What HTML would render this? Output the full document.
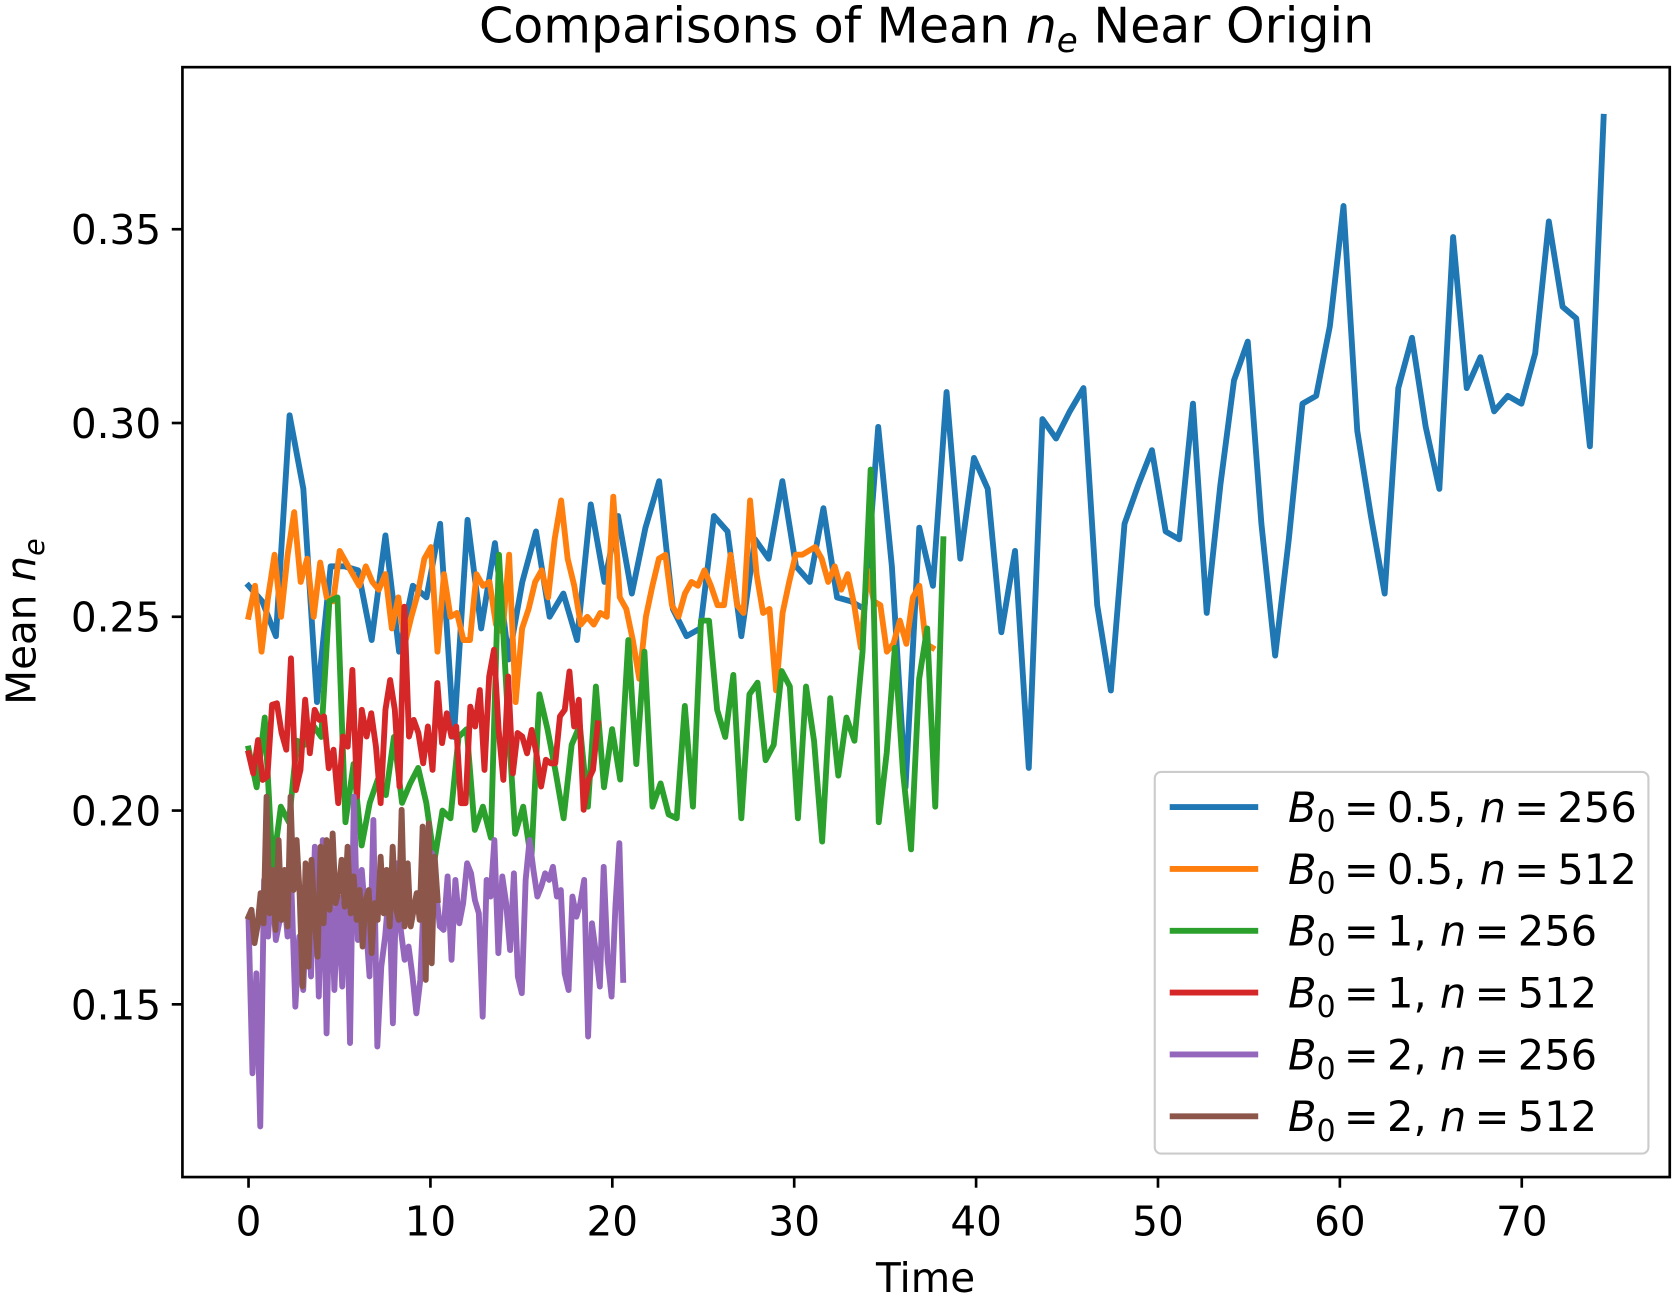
<!DOCTYPE html>
<html><head><meta charset="utf-8"><style>
html,body{margin:0;padding:0;background:#fff;}
svg{display:block;font-family:"DejaVu Sans","Liberation Sans",sans-serif;}
</style></head><body>
<svg id="chart" width="1672" height="1305" viewBox="0 0 1568 1224" xmlns="http://www.w3.org/2000/svg">
<rect width="1568" height="1224" fill="#fff"/>
<text x="869" y="40" font-size="46" text-anchor="middle">Comparisons of Mean <tspan font-style="italic">n</tspan><tspan font-style="italic" font-size="32" dy="9">e</tspan><tspan dy="-9"> Near Origin</tspan></text>
<text x="868" y="1212" font-size="38" text-anchor="middle">Time</text>
<text transform="translate(33,583) rotate(-90)" font-size="38" text-anchor="middle">Mean <tspan font-style="italic">n</tspan><tspan font-style="italic" font-size="27" dy="8">e</tspan></text>
<g id="plot"></g>
<g id="axes"></g>
<g id="legend"></g>
</svg>
<script>
const xTicks = [0,10,20,30,40,50,60,70];
const yTicks = [0.15,0.20,0.25,0.30,0.35];
const yTickLabels = ["0.15","0.20","0.25","0.30","0.35"];
const seriesLabels = ["B0=0.5,n=256","B0=0.5,n=512","B0=1,n=256","B0=1,n=512","B0=2,n=256","B0=2,n=512"];
const seriesColors = ["#1f77b4","#ff7f0e","#2ca02c","#d62728","#9467bd","#8c564b"];
const tStart = [0,0,0,0,0,0];
const tEnd = [74.5,37.6,38.2,19.2,20.6,10.4];
const blue = [0.258,0.254,0.245,0.302,0.283,0.228,0.263,0.263,0.262,0.244,0.271,0.241,0.258,0.255,0.274,0.219,0.275,0.247,0.269,0.239,0.259,0.272,0.250,0.256,0.244,0.279,0.259,0.276,0.256,0.273,0.285,0.252,0.245,0.247,0.276,0.272,0.245,0.270,0.265,0.285,0.263,0.259,0.278,0.255,0.254,0.252,0.299,0.263,0.206,0.273,0.258,0.308,0.265,0.291,0.283,0.246,0.267,0.211,0.301,0.296,0.303,0.309,0.253,0.231,0.274,0.284,0.293,0.272,0.270,0.305,0.251,0.284,0.311,0.321,0.274,0.240,0.270,0.305,0.307,0.325,0.356,0.298,0.276,0.256,0.309,0.322,0.299,0.283,0.348,0.309,0.317,0.303,0.307,0.305,0.318,0.352,0.330,0.327,0.294,0.379];
const orange = [0.250,0.258,0.241,0.255,0.266,0.250,0.266,0.277,0.259,0.265,0.250,0.264,0.255,0.254,0.267,0.264,0.261,0.258,0.263,0.259,0.257,0.261,0.247,0.255,0.243,0.250,0.256,0.265,0.268,0.241,0.261,0.250,0.251,0.244,0.244,0.261,0.258,0.259,0.248,0.246,0.266,0.228,0.247,0.252,0.259,0.262,0.255,0.270,0.280,0.265,0.258,0.248,0.250,0.248,0.251,0.250,0.281,0.255,0.252,0.244,0.234,0.250,0.258,0.265,0.266,0.253,0.250,0.256,0.259,0.258,0.262,0.258,0.253,0.253,0.266,0.253,0.251,0.280,0.261,0.251,0.252,0.231,0.251,0.259,0.266,0.266,0.267,0.268,0.265,0.259,0.263,0.257,0.261,0.253,0.242,0.262,0.254,0.253,0.241,0.243,0.249,0.243,0.255,0.258,0.243,0.242];
const green = [0.216,0.206,0.224,0.185,0.201,0.197,0.218,0.217,0.222,0.219,0.254,0.255,0.197,0.212,0.191,0.202,0.208,0.204,0.219,0.202,0.207,0.211,0.202,0.187,0.200,0.198,0.219,0.221,0.195,0.201,0.193,0.266,0.228,0.194,0.201,0.187,0.230,0.221,0.210,0.198,0.217,0.222,0.201,0.232,0.206,0.221,0.208,0.244,0.212,0.241,0.201,0.207,0.199,0.198,0.227,0.201,0.249,0.249,0.226,0.219,0.235,0.198,0.230,0.233,0.213,0.217,0.236,0.232,0.198,0.232,0.218,0.192,0.229,0.209,0.224,0.218,0.241,0.288,0.197,0.215,0.242,0.210,0.190,0.234,0.247,0.201,0.270];
const red = [0.2148,0.2096,0.2182,0.2079,0.2088,0.2273,0.2277,0.22,0.2157,0.2393,0.2053,0.2105,0.2286,0.2148,0.226,0.2234,0.2243,0.2109,0.2157,0.2019,0.2191,0.2165,0.2363,0.2036,0.226,0.2191,0.2251,0.2165,0.2019,0.226,0.2337,0.226,0.2062,0.2526,0.2191,0.2234,0.22,0.2122,0.2217,0.2105,0.2329,0.2174,0.2251,0.2191,0.2217,0.2019,0.2019,0.2268,0.2217,0.2311,0.2105,0.2346,0.2415,0.2208,0.2079,0.2346,0.2096,0.22,0.2191,0.2148,0.2208,0.2148,0.2062,0.2131,0.2122,0.2122,0.2243,0.226,0.2359,0.2217,0.2286,0.2002,0.2079,0.2105,0.2225];
const purple = [0.1718,0.1322,0.158,0.1185,0.1821,0.1675,0.1821,0.1666,0.1718,0.1795,0.1675,0.1795,0.1494,0.1675,0.1537,0.1778,0.1572,0.1907,0.152,0.1924,0.1425,0.1873,0.1537,0.1778,0.1546,0.1864,0.14,0.2036,0.1666,0.1847,0.1718,0.1572,0.1976,0.1391,0.1597,0.1675,0.1795,0.1451,0.1864,0.1692,0.1615,0.1649,0.1572,0.1477,0.1563,0.1795,0.1675,0.189,0.1795,0.1701,0.1692,0.183,0.1615,0.1821,0.1709,0.1761,0.1864,0.1838,0.1769,0.1735,0.1468,0.1821,0.1778,0.1924,0.1632,0.183,0.1761,0.164,0.1838,0.1572,0.1529,0.1821,0.1924,0.1847,0.1778,0.1804,0.1838,0.1821,0.1855,0.1778,0.1795,0.158,0.1537,0.1778,0.1726,0.1761,0.1821,0.1417,0.1709,0.1632,0.1546,0.1855,0.1615,0.152,0.1752,0.1916,0.1563];
const brown = [0.1726,0.1744,0.1658,0.1701,0.1787,0.1709,0.2036,0.1735,0.1847,0.1692,0.1924,0.1718,0.1847,0.1701,0.2036,0.1795,0.1924,0.1787,0.1546,0.1864,0.1597,0.1873,0.1718,0.1623,0.1907,0.1709,0.1924,0.1744,0.1941,0.1761,0.1795,0.1873,0.1752,0.1907,0.1735,0.183,0.1718,0.1795,0.1649,0.1769,0.1795,0.1632,0.1761,0.1718,0.1881,0.1735,0.1847,0.1701,0.1907,0.1752,0.1718,0.2002,0.1701,0.1864,0.1701,0.1744,0.1787,0.1718,0.1959,0.1563,0.1967,0.1606,0.1881,0.1769];

const NS = "http://www.w3.org/2000/svg";
const L = 171, R = 1566, T = 63, B = 1104;
function xs(t){ return 233 + (t - 0) * 17.06; }
function ys(v){ return 942 - (v - 0.15) * 3635; }
function mk(tag, attrs, parent){ const e = document.createElementNS(NS, tag); for (const k in attrs) e.setAttribute(k, attrs[k]); parent.appendChild(e); return e; }

const plot = document.getElementById('plot');
const axes = document.getElementById('axes');
const legend = document.getElementById('legend');
const allSeries = [blue, orange, green, red, purple, brown];
const seriesNames = ["series-b05-n256","series-b05-n512","series-b1-n256","series-b1-n512","series-b2-n256","series-b2-n512"];
allSeries.forEach((vals, s) => {
  const n = vals.length;
  const pts = vals.map((v, i) => {
    const t = tStart[s] + (tEnd[s] - tStart[s]) * i / (n - 1);
    return xs(t).toFixed(1) + ',' + ys(v).toFixed(1);
  }).join(' ');
  const pl = mk('polyline', {points: pts, fill: 'none', stroke: seriesColors[s], 'stroke-width': 5.5, 'stroke-linejoin': 'round', 'stroke-linecap': 'square'}, plot);
  
  
});

const frame = mk('rect', {x: L, y: T, width: R - L, height: B - T, fill: 'none', stroke: '#000', 'stroke-width': 2.5}, axes);


xTicks.forEach((t) => {
  const x = xs(t);
  const tk = mk('line', {x1: x, y1: B, x2: x, y2: B + 10, stroke: '#000', 'stroke-width': 2.5}, axes);
  
  
  const tx = mk('text', {x: x, y: B + 55, 'font-size': 38, 'text-anchor': 'middle'}, axes);
  tx.textContent = String(t);
  
  
});
yTicks.forEach((v, i) => {
  const y = ys(v);
  const tk = mk('line', {x1: L - 10, y1: y, x2: L, y2: y, stroke: '#000', 'stroke-width': 2.5}, axes);
  
  
  const tx = mk('text', {x: L - 20, y: y + 14, 'font-size': 38, 'text-anchor': 'end'}, axes);
  tx.textContent = yTickLabels[i];
  
  
});

const box = mk('rect', {x: 1083, y: 724, width: 463, height: 358, rx: 6, fill: '#fff', 'fill-opacity': 0.8, stroke: '#ccc', 'stroke-width': 2}, legend);


const legB = ["0.5","0.5","1","1","2","2"];
const legN = ["256","512","256","512","256","512"];
seriesLabels.forEach((lab, i) => {
  const y = 757 + i * 58;
  const ln = mk('line', {x1: 1097, y1: y, x2: 1180, y2: y, stroke: seriesColors[i], 'stroke-width': 5.5}, legend);
  
  
  const tx = mk('text', {x: 1208, y: y + 14, 'font-size': 39}, legend);
  tx.innerHTML = '<tspan font-style="italic">B</tspan><tspan font-size="28" dy="9">0</tspan><tspan dy="-9">\u2009=\u20090.5, </tspan>'.replace('0.5', legB[i]) + '<tspan font-style="italic">n</tspan><tspan>\u2009=\u2009' + legN[i] + '</tspan>';
  
  
});
</script>
</body></html>
